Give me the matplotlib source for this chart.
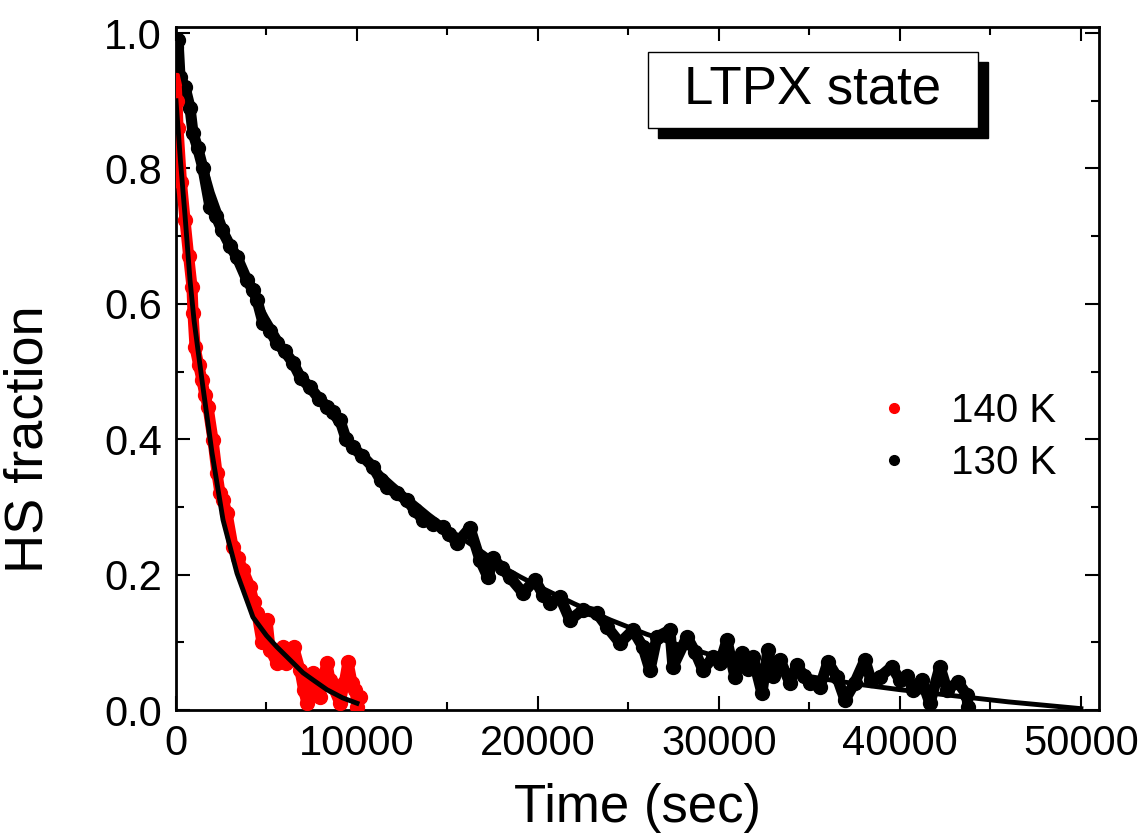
import matplotlib
matplotlib.use("Agg")
import matplotlib.pyplot as plt
from matplotlib.lines import Line2D
from matplotlib.patches import Rectangle
from matplotlib.ticker import MultipleLocator

plt.rcParams['font.family'] = ['Liberation Sans', 'DejaVu Sans']

# 140 K data (red)
t140 = [0, 55, 110, 300, 497, 700, 884, 940, 1050, 1250, 1437, 1600, 1768, 2044, 2265,
        2431, 2600, 2818, 3149, 3400, 3702, 4089, 4300, 4475, 4750, 5028, 5200, 5580, 5912,
        6100, 6299, 6500, 6851, 7050, 7238, 7569, 7800, 7956, 8150, 8343, 8500, 8674, 9061,
        9300, 9503, 9724, 9900, 10000, 10166]
hs140 = [0.93, 0.90, 0.86, 0.78, 0.724, 0.67, 0.625, 0.586, 0.536, 0.51, 0.487, 0.465, 0.448, 0.399, 0.35,
         0.32, 0.31, 0.291, 0.241, 0.225, 0.207, 0.182, 0.16, 0.143, 0.10, 0.133, 0.089, 0.069, 0.093,
         0.07, 0.078, 0.093, 0.059, 0.03, 0.010, 0.055, 0.03, 0.019, 0.05, 0.069, 0.045, 0.034, 0.010,
         0.04, 0.071, 0.040, 0.03, 0.004, 0.019]

# 130 K data (black)
t130 = [0, 110, 221, 500, 774, 940, 1200, 1492, 1879, 2200, 2541, 3000, 3370, 3923, 4254,
        4475, 4807, 5200, 5580, 6000, 6464, 6900, 7403, 7900, 8343, 8700, 9061, 9400, 9779,
        10300, 10884, 11300, 11658, 12200, 12763, 13200, 13647, 14200, 14752, 15100, 15525,
        16243, 16796, 17238, 17514, 18000, 18453, 19172, 19835, 20300, 20664, 21216, 21769,
        22487, 23260, 23813, 24531, 25249, 25801, 26188, 26575, 27293, 27459, 28232, 28700,
        29116, 29669, 30056, 30442, 30884, 31272, 31600, 31880, 32377, 32708, 33000, 33371,
        33924, 34310, 34700, 35028, 35581, 36023, 36520, 36962, 37500, 38067, 38400, 38896,
        39559, 40001, 40400, 40719, 41200, 41658, 42211, 42600, 43206, 43703, 43758]
hs130 = [0.98, 0.99, 0.935, 0.92, 0.89, 0.852, 0.83, 0.80, 0.743, 0.73, 0.709, 0.685, 0.669, 0.635, 0.62,
         0.606, 0.572, 0.56, 0.542, 0.53, 0.513, 0.49, 0.477, 0.46, 0.448, 0.44, 0.428, 0.40, 0.388,
         0.375, 0.359, 0.34, 0.329, 0.32, 0.31, 0.295, 0.281, 0.275, 0.27, 0.26, 0.247,
         0.269, 0.222, 0.196, 0.224, 0.21, 0.196, 0.173, 0.192, 0.17, 0.158, 0.167, 0.133,
         0.148, 0.143, 0.123, 0.099, 0.118, 0.093, 0.059, 0.108, 0.118, 0.064, 0.108, 0.085,
         0.059, 0.078, 0.069, 0.103, 0.049, 0.084, 0.06, 0.078, 0.025, 0.089, 0.05, 0.074,
         0.040, 0.066, 0.05, 0.040, 0.034, 0.071, 0.049, 0.015, 0.04, 0.074, 0.044, 0.049,
         0.064, 0.044, 0.05, 0.030, 0.045, 0.010, 0.064, 0.03, 0.041, 0.022, 0.004]

# fit curves (black lines)
fit140_t = [0, 250, 500, 774, 1000, 1437, 1989, 2597, 3370, 4254, 5000, 5580, 6300, 7017, 7700, 8343, 9200, 10000]
fit140 = [0.90, 0.81, 0.73, 0.635, 0.575, 0.487, 0.38, 0.281, 0.202, 0.137, 0.11, 0.093, 0.074, 0.055, 0.042, 0.030, 0.018, 0.010]

fit130_t = [0, 1000, 2000, 3000, 4000, 5000, 6000, 7000, 8000, 9000, 10000, 11000, 12000, 13000,
            14000, 15000, 16000, 17000, 18000, 19000, 20000, 22000, 24000, 26000, 28000, 30000,
            32000, 34000, 36000, 38000, 40000, 42000, 44000, 46000, 48000, 50000]
fit130 = [0.98, 0.86, 0.765, 0.69, 0.63, 0.58, 0.535, 0.495, 0.455, 0.42, 0.385, 0.357, 0.333, 0.31,
          0.288, 0.268, 0.25, 0.232, 0.212, 0.197, 0.183, 0.157, 0.133, 0.112, 0.094, 0.078,
          0.065, 0.054, 0.045, 0.037, 0.03, 0.024, 0.018, 0.012, 0.007, 0.002]

fig = plt.figure(figsize=(11.44, 8.33), dpi=100)
ax = fig.add_axes([176/1144, 1-710/833, 923/1144, 683/833])

# data as dense dots, the thick line fills the gaps between the read points
ax.plot(t130, hs130, 'o-', color='black', ms=10, lw=8, zorder=2)
ax.plot(t140, hs140, 'o-', color='red', ms=10, lw=8, zorder=3)
ax.plot(fit140_t, fit140, color='black', lw=3.5, zorder=4)
ax.plot(fit130_t, fit130, color='black', lw=3.5, zorder=4)

ax.set_xlim(0, 51000)
ax.set_ylim(0, 1.009)
ax.xaxis.set_major_locator(MultipleLocator(10000))
ax.xaxis.set_minor_locator(MultipleLocator(5000))
ax.yaxis.set_major_locator(MultipleLocator(0.2))
ax.yaxis.set_minor_locator(MultipleLocator(0.1))
ax.yaxis.set_major_formatter(plt.FormatStrFormatter('%.1f'))
ax.tick_params(which='both', direction='in', top=True, right=True, width=1.5, labelsize=30)
ax.tick_params(which='major', length=10, pad=10)
ax.tick_params(which='minor', length=5.5)
for s in ax.spines.values():
    s.set_linewidth(2)

ax.set_xlabel('Time (sec)', fontsize=38, labelpad=14)
ax.set_ylabel('HS fraction', fontsize=39)
ax.yaxis.set_label_coords(-0.133, 0.397)

# legend
handles = [Line2D([], [], ls='none', marker='o', color='red', ms=7),
           Line2D([], [], ls='none', marker='o', color='black', ms=7)]
ax.legend(handles, ['140 K', '130 K'], loc='center left', bbox_to_anchor=(0.749, 0.40),
          frameon=False, fontsize=29, handlelength=0.5, handletextpad=1.17, labelspacing=0.35,
          borderaxespad=0)

# LTPX state box with shadow
fig.patches.append(Rectangle((658/1144, 1-138/833), 330/1144, 76/833, transform=fig.transFigure,
                             facecolor='black', edgecolor='black', zorder=5))
fig.patches.append(Rectangle((648/1144, 1-128/833), 330/1144, 76/833, transform=fig.transFigure,
                             facecolor='white', edgecolor='black', lw=1, zorder=6))
fig.text(813/1144, 1-90/833, 'LTPX state', fontsize=38, ha='center', va='center', zorder=7)

fig.savefig('out.png', dpi=100)
